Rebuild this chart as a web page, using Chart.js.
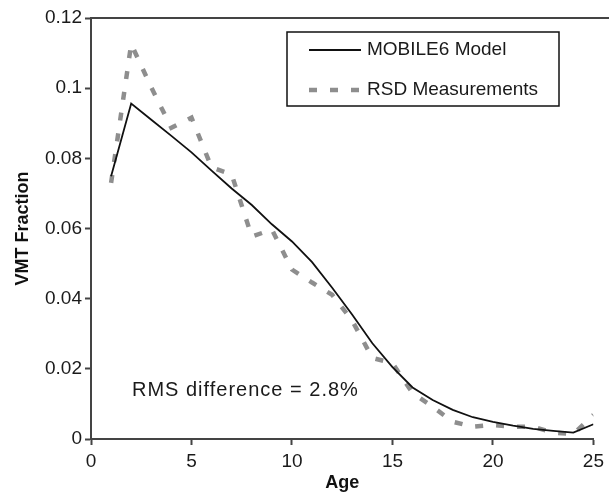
<!DOCTYPE html>
<html><head><meta charset="utf-8">
<script src="https://cdn.jsdelivr.net/npm/chart.js@4"></script>
<style>html,body{margin:0;padding:0;background:#fff;} #wrap{width:609px;height:495px;position:relative;}</style>
</head><body><div id="wrap"><canvas id="c" width="609" height="495"></canvas></div>
<script>
const ages = [1,2,3,4,5,6,7,8,9,10,11,12,13,14,15,16,17,18,19,20,21,22,23,24,25];
const mobile6 = [0.0749,0.0956,0.0910,0.0864,0.0817,0.0765,0.0714,0.0667,0.0612,0.0563,0.0504,0.0431,0.0354,0.0273,0.0205,0.0147,0.0111,0.0083,0.0062,0.0049,0.0038,0.0029,0.0023,0.0018,0.0042];
const rsd = [0.0730,0.1126,0.1002,0.0887,0.0916,0.0774,0.0754,0.0577,0.0597,0.0483,0.0446,0.0411,0.0337,0.0231,0.0216,0.0131,0.0092,0.0049,0.0035,0.0040,0.0035,0.0035,0.0018,0.0014,0.0069];
const seriesNames = ['MOBILE6 Model','RSD Measurements'];
const xTickLabels = ['0','5','10','15','20','25'];
const yTickLabels = ['0','0.02','0.04','0.06','0.08','0.1','0.12'];
const xTitle = 'Age';
const yTitle = 'VMT Fraction';
const annotationText = 'RMS difference = 2.8%';

const FONT = "'Liberation Sans', Arial, sans-serif";
const AXIS = '#444';

const decor = {
  id: 'decor',
  afterDraw(chart) {
    const ctx = chart.ctx, a = chart.chartArea;
    ctx.save();
    // top frame line
    ctx.strokeStyle = AXIS; ctx.lineWidth = 2;
    ctx.beginPath(); ctx.moveTo(a.left, a.top); ctx.lineTo(chart.width, a.top); ctx.stroke();
    // legend box
    const bx = a.left + 196, by = a.top + 14, bw = 272, bh = 74;
    ctx.fillStyle = '#fff'; ctx.fillRect(bx, by, bw, bh);
    ctx.strokeStyle = '#111'; ctx.lineWidth = 1.5;
    ctx.strokeRect(bx, by, bw, bh);
    const ds = chart.data.datasets;
    const rows = [by + 18, by + 58];
    ds.forEach((d, i) => {
      const y = rows[i];
      ctx.save();
      ctx.strokeStyle = d.borderColor; ctx.lineWidth = d.borderWidth;
      ctx.setLineDash(d.borderDash || []);
      ctx.lineCap = 'butt';
      ctx.beginPath(); ctx.moveTo(bx + 22, y); ctx.lineTo(bx + 74, y); ctx.stroke();
      ctx.restore();
      ctx.fillStyle = '#1a1a1a';
      ctx.font = "19px " + FONT;
      ctx.textBaseline = 'middle'; ctx.textAlign = 'left';
      ctx.fillText(d.label, bx + 80, y);
    });
    // annotation
    ctx.fillStyle = '#1a1a1a';
    ctx.font = "20px " + FONT;
    try { ctx.letterSpacing = '1px'; } catch (e) {}
    ctx.textBaseline = 'middle'; ctx.textAlign = 'left';
    ctx.fillText(annotationText, a.left + 41, chart.scales.y.getPixelForValue(0.0137));
    ctx.restore();
  }
};

new Chart(document.getElementById('c'), {
  type: 'line',
  data: {
    datasets: [
      { label: seriesNames[0], data: ages.map((x, i) => ({x, y: mobile6[i]})),
        borderColor: '#111', borderWidth: 1.8, pointRadius: 0, tension: 0, fill: false },
      { label: seriesNames[1], data: ages.map((x, i) => ({x, y: rsd[i]})),
        borderColor: '#8e8e8e', borderWidth: 4.5, borderDash: [8, 13], borderCapStyle: 'butt',
        pointRadius: 0, tension: 0, fill: false }
    ]
  },
  options: {
    responsive: false,
    devicePixelRatio: 1,
    animation: false,
    layout: { padding: { top: 18, right: 15, left: 0, bottom: 0 } },
    plugins: { legend: { display: false }, tooltip: { enabled: false } },
    scales: {
      x: {
        type: 'linear', min: 0, max: 25,
        ticks: { stepSize: 5, color: '#1a1a1a', font: { family: FONT, size: 19 }, padding: 5,
                 callback: (v) => xTickLabels[Math.round(v / 5)] },
        grid: { drawOnChartArea: false, drawTicks: true, tickLength: 6, tickColor: AXIS, tickWidth: 2 },
        border: { color: AXIS, width: 2 },
        title: { display: true, text: xTitle, color: '#111', font: { family: FONT, size: 18, weight: 'bold' }, padding: { top: 0, bottom: 1 } },
        afterFit: (s) => { s.height = 56; }
      },
      y: {
        type: 'linear', min: 0, max: 0.12,
        ticks: { stepSize: 0.02, color: '#1a1a1a', font: { family: FONT, size: 19 }, padding: 3,
                 callback: (v) => yTickLabels[Math.round(v / 0.02)] },
        grid: { drawOnChartArea: false, drawTicks: true, tickLength: 6, tickColor: AXIS, tickWidth: 2 },
        border: { color: AXIS, width: 2 },
        title: { display: true, text: yTitle, color: '#111', font: { family: FONT, size: 18, weight: 'bold' }, padding: { top: 12, bottom: 0 } },
        afterFit: (s) => { s.width = 91; }
      }
    }
  },
  plugins: [decor]
});
</script>
</body></html>
